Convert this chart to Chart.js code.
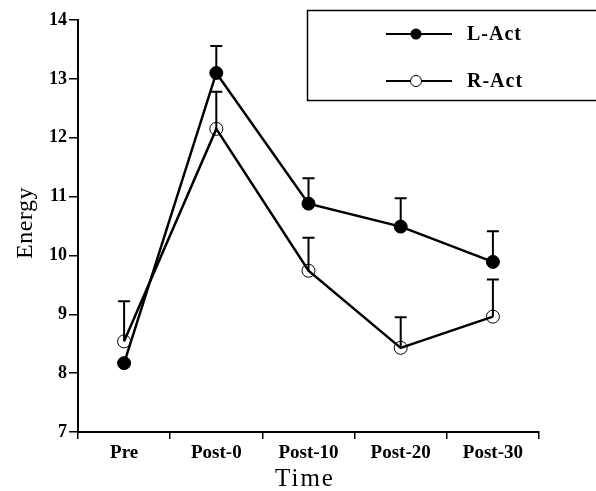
<!DOCTYPE html>
<html>
<head>
<meta charset="utf-8">
<script src="https://cdn.jsdelivr.net/npm/chart.js@4.4.1/dist/chart.umd.min.js"></script>
<style>
  html, body { margin: 0; padding: 0; background: #fff; }
  #wrap { width: 596px; height: 491px; }
</style>
</head>
<body>
<div id="wrap"><canvas id="c" width="596" height="491"></canvas></div>
<script>
const categories = ['Pre', 'Post-0', 'Post-10', 'Post-20', 'Post-30'];
const lAct = [8.17, 13.1, 10.88, 10.49, 9.89];
const rAct = [8.54, 12.15, 9.74, 8.43, 8.96];
const lActTop = [null, 13.56, 11.31, 10.97, 10.41];
const rActTop = [9.22, 12.78, 10.3, 8.95, 9.59];
const yTicks = [7, 8, 9, 10, 11, 12, 13, 14];

const serif = '"Liberation Serif", "Times New Roman", serif';

// upward-only error bars with a cap
const errorBars = {
  id: 'errorBars',
  afterDatasetsDraw(chart) {
    const { ctx, scales: { x, y } } = chart;
    const tops = [lActTop, rActTop];
    ctx.save();
    ctx.strokeStyle = '#000';
    ctx.lineWidth = 2;
    chart.data.datasets.forEach((ds, i) => {
      ds.data.forEach((v, j) => {
        const t = tops[i][j];
        if (t == null) return;
        const px = x.getPixelForValue(j);
        const y0 = y.getPixelForValue(v);
        const y1 = y.getPixelForValue(t);
        ctx.beginPath();
        ctx.moveTo(px, y0);
        ctx.lineTo(px, y1);
        ctx.moveTo(px - 6, y1);
        ctx.lineTo(px + 6, y1);
        ctx.stroke();
      });
    });
    ctx.restore();
  }
};

// boxed legend and spaced axis titles
const decorations = {
  id: 'decorations',
  afterDraw(chart) {
    const ctx = chart.ctx;
    ctx.save();
    ctx.strokeStyle = '#000';
    ctx.lineWidth = 1.5;
    ctx.strokeRect(307.5, 10.5, 300, 90);
    const rows = [
      { label: 'L-Act', y: 34, filled: true },
      { label: 'R-Act', y: 81, filled: false }
    ];
    rows.forEach(r => {
      ctx.lineWidth = 2;
      ctx.beginPath();
      ctx.moveTo(386, r.y);
      ctx.lineTo(452, r.y);
      ctx.stroke();
      ctx.beginPath();
      ctx.arc(416, r.y, 5.5, 0, Math.PI * 2);
      if (r.filled) {
        ctx.fillStyle = '#000';
        ctx.fill();
      } else {
        ctx.fillStyle = '#fff';
        ctx.fill();
        ctx.lineWidth = 1;
        ctx.stroke();
      }
      ctx.fillStyle = '#000';
      ctx.font = 'bold 20px ' + serif;
      ctx.letterSpacing = '1px';
      ctx.textBaseline = 'middle';
      ctx.textAlign = 'left';
      ctx.fillText(r.label, 467, r.y + 1);
    });

    ctx.fillStyle = '#000';
    ctx.textAlign = 'center';
    ctx.textBaseline = 'middle';
    ctx.font = '25px ' + serif;
    ctx.letterSpacing = '2px';
    ctx.fillText('Time', 305, 479);

    ctx.letterSpacing = '0.5px';
    ctx.font = '24px ' + serif;
    ctx.translate(26, 223);
    ctx.rotate(-Math.PI / 2);
    ctx.fillText('Energy', 0, 0);
    ctx.restore();
  }
};

new Chart(document.getElementById('c'), {
  type: 'line',
  data: {
    labels: categories,
    datasets: [
      {
        label: 'L-Act',
        data: lAct,
        borderColor: '#000',
        borderWidth: 2.5,
        backgroundColor: '#000',
        pointBackgroundColor: '#000',
        pointBorderColor: '#000',
        pointRadius: 6.5,
        pointBorderWidth: 1,
        tension: 0
      },
      {
        label: 'R-Act',
        data: rAct,
        borderColor: '#000',
        borderWidth: 2.5,
        backgroundColor: 'rgba(0,0,0,0)',
        pointBackgroundColor: 'rgba(0,0,0,0)',
        pointBorderColor: '#000',
        pointRadius: 6.5,
        pointBorderWidth: 1,
        tension: 0
      }
    ]
  },
  options: {
    responsive: false,
    animation: false,
    layout: { padding: { top: 20, right: 57, left: 0, bottom: 0 } },
    plugins: {
      legend: { display: false },
      tooltip: { enabled: false }
    },
    scales: {
      x: {
        offset: true,
        grid: {
          offset: true,
          drawOnChartArea: false,
          drawTicks: true,
          tickLength: 7,
          color: '#000',
          lineWidth: 1.5
        },
        border: { color: '#000', width: 2 },
        ticks: {
          color: '#000',
          font: { family: serif, size: 19, weight: 'bold' },
          padding: 3,
          maxRotation: 0
        },
        afterFit(s) { s.height = 491 - 432; }
      },
      y: {
        min: 7,
        max: 14,
        afterBuildTicks(s) { s.ticks = yTicks.map(v => ({ value: v })); },
        grid: {
          drawOnChartArea: false,
          drawTicks: true,
          tickLength: 9,
          color: '#000',
          lineWidth: 1.5
        },
        border: { color: '#000', width: 2 },
        ticks: {
          color: '#000',
          font: { family: serif, size: 18, weight: 'bold' },
          padding: 2
        },
        afterFit(s) { s.width = 78; }
      }
    }
  },
  plugins: [errorBars, decorations]
});
</script>
</body>
</html>
